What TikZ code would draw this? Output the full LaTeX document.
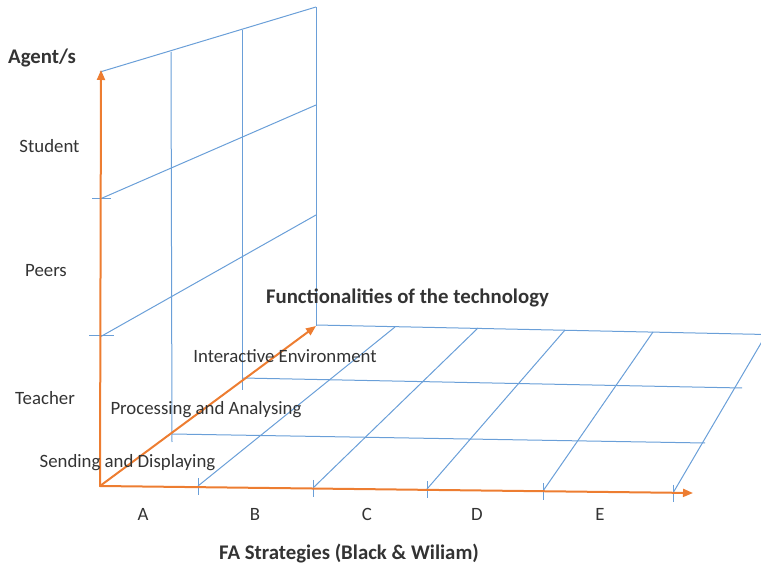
\documentclass[tikz,border=0pt]{standalone}
\usepackage{fontspec}
\setmainfont{Carlito}
\usetikzlibrary{arrows.meta}
\definecolor{gridblue}{HTML}{6A9FD8}
\definecolor{axisorange}{HTML}{ED7D31}
\definecolor{labelgray}{HTML}{333333}
\begin{document}
\begin{tikzpicture}[x=1pt,y=-1pt,
  grid/.style={draw=gridblue, line width=1pt},
  axis/.style={draw=axisorange, line width=2pt, line cap=round,
    -{Triangle[length=10pt,width=8pt]}},
  lbl/.style={text=labelgray, inner sep=0pt,
    font=\fontsize{18.8}{22}\selectfont},
  heading/.style={text=labelgray, inner sep=0pt,
    font=\bfseries\fontsize{20.8}{24}\selectfont}]
\useasboundingbox (0,0) rectangle (761,569);
\clip (0,0) rectangle (761,569);

% axes origin and arrow tips
\coordinate (O) at (100,486);
\coordinate (Vtip) at (101,70);
\coordinate (Htip) at (693,493);
\coordinate (Dtip) at (316,326);

% ---- vertical wall (Agent/s) ----
\coordinate (wA0) at (100,72);  \coordinate (wA3) at (316,7);
\coordinate (wB0) at (100,199); \coordinate (wB3) at (316,105);
\coordinate (wC0) at (100,337); \coordinate (wC3) at (316,215);
\coordinate (v1t) at (171,52);  \coordinate (v1b) at (172,442);
\coordinate (v2t) at (242,30);  \coordinate (v2b) at (242,390);
\coordinate (v3t) at (316,7);   \coordinate (v3b) at (316,326);

\draw[grid] (wA0) -- (wA3);
\draw[grid] (wB0) -- (wB3);
\draw[grid] (wC0) -- (wC3);
\draw[grid] (v1t) -- (v1b);
\draw[grid] (v2t) -- (v2b);
\draw[grid] (v3t) -- (v3b);
% ticks on the agent axis
\draw[grid] (92,199) -- (111,199);
\draw[grid] (89,336) -- (114,336);

% ---- floor grid ----
\coordinate (fF0) at (172,434); \coordinate (fF1) at (705,443);
\coordinate (fM0) at (242,378); \coordinate (fM1) at (742,388);
\coordinate (fB0) at (316,325); \coordinate (fB1) at (790,335);
\draw[grid] (fF0) -- (fF1);
\draw[grid] (fM0) -- (fM1);
\draw[grid] (fB0) -- (fB1);

\coordinate (d1a) at (198,486); \coordinate (d1b) at (395,327);
\coordinate (d2a) at (313,488); \coordinate (d2b) at (478,328);
\coordinate (d3a) at (427,489); \coordinate (d3b) at (565,330);
\coordinate (d4a) at (543,491); \coordinate (d4b) at (653,332);
\coordinate (d5a) at (673,493); \coordinate (d5b) at (767,333);
\draw[grid] (d1a) -- (d1b);
\draw[grid] (d2a) -- (d2b);
\draw[grid] (d3a) -- (d3b);
\draw[grid] (d4a) -- (d4b);
\draw[grid] (d5a) -- (d5b);
% ticks on the strategy axis
\foreach \x/\y in {198/486.3, 313/487.9, 427/489.4, 543/491, 673/492.7}
  \draw[grid] (\x,\y-8) -- (\x,\y+9);

% ---- orange axes ----
\draw[axis] (O) -- (Vtip);
\draw[axis] (O) -- (Htip);
\draw[axis] (O) -- (Dtip);

% ---- labels ----
\node[heading] (agents) at (42,58) {Agent/s};
\node[lbl] (student) at (49.5,146) {Student};
\node[lbl] (peers) at (46,271) {Peers};
\node[lbl] (teacher) at (45,398) {Teacher};

\node[heading] (func) at (407.5,298) {Functionalities of the technology};
\node[lbl] (interactive) at (285,356) {Interactive Environment};
\node[lbl] (processing) at (206,410) {Processing and Analysing};
\node[lbl] (sending) at (127.5,463) {Sending and Displaying};

\node[lbl] (sA) at (143,514) {A};
\node[lbl] (sB) at (255,514) {B};
\node[lbl] (sC) at (367,514) {C};
\node[lbl] (sD) at (477,514) {D};
\node[lbl] (sE) at (600,514) {E};
\node[heading] (fa) at (349,554) {FA Strategies (Black \& Wiliam)};
\end{tikzpicture}
\end{document}
